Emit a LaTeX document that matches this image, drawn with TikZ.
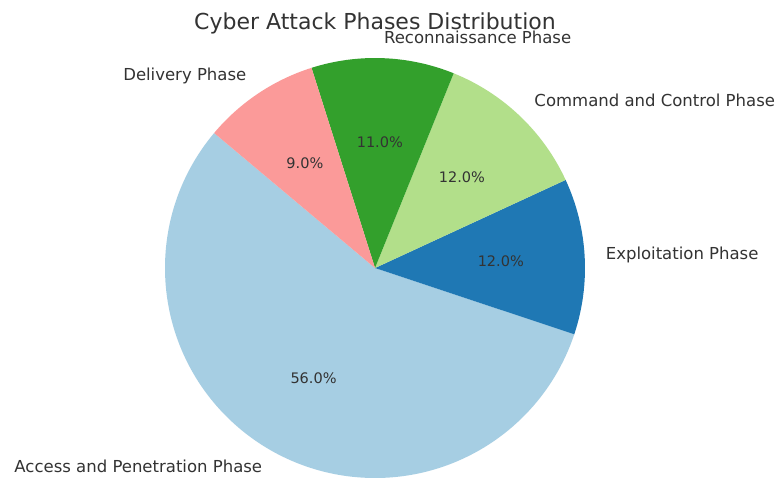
\documentclass[tikz,border=0pt]{standalone}
\usepackage{fontspec}
\setmainfont{DejaVu Sans}
\definecolor{cAccess}{HTML}{A6CEE3}
\definecolor{cExploit}{HTML}{1F78B4}
\definecolor{cCommand}{HTML}{B2DF8A}
\definecolor{cRecon}{HTML}{33A02C}
\definecolor{cDeliv}{HTML}{FB9A99}
\definecolor{txt}{HTML}{333333}
\tikzset{
  lbl/.style={text=txt, inner sep=0pt, font=\fontsize{16.5}{19}\selectfont},
  pct/.style={text=txt, inner sep=0pt, font=\fontsize{14.5}{17}\selectfont},
  ttl/.style={text=txt, inner sep=0pt, font=\fontsize{22}{26}\selectfont},
}
\begin{document}
\begin{tikzpicture}[x=1pt,y=1pt]
\useasboundingbox (0,0) rectangle (777,-477);
\fill[white] (0,0) rectangle (777,-477);
\coordinate (c) at (375,-268);
\def\R{210}
% slices (start angle 140, counter-clockwise)
\fill[cAccess]  (c) -- ([shift={(140:\R)}]c) arc[start angle=140, end angle=341.6, radius=\R] -- cycle;
\fill[cExploit] (c) -- ([shift={(341.6:\R)}]c) arc[start angle=341.6, end angle=384.8, radius=\R] -- cycle;
\fill[cCommand] (c) -- ([shift={(24.8:\R)}]c) arc[start angle=24.8, end angle=68, radius=\R] -- cycle;
\fill[cRecon]   (c) -- ([shift={(68:\R)}]c) arc[start angle=68, end angle=107.6, radius=\R] -- cycle;
\fill[cDeliv]   (c) -- ([shift={(107.6:\R)}]c) arc[start angle=107.6, end angle=140, radius=\R] -- cycle;
% labels
\node[lbl, anchor=east] (lAccess)  at ([shift={(240.8:231)}, yshift=3pt]c) {Access and Penetration Phase};
\node[lbl, anchor=west] (lExploit) at ([shift={(3.2:231)}]c) {Exploitation Phase};
\node[lbl, anchor=west] (lCommand) at ([shift={(46.4:231)}]c) {Command and Control Phase};
\node[lbl, anchor=west] (lRecon)   at ([shift={(87.8:231)}]c) {Reconnaissance Phase};
\node[lbl, anchor=east] (lDeliv)   at ([shift={(123.8:231)}]c) {Delivery Phase};
% percentages
\node[pct] (pAccess)  at ([shift={(240.8:126)}]c) {56.0\%};
\node[pct] (pExploit) at ([shift={(3.2:126)}]c) {12.0\%};
\node[pct] (pCommand) at ([shift={(46.4:126)}]c) {12.0\%};
\node[pct] (pRecon)   at ([shift={(87.8:126)}]c) {11.0\%};
\node[pct] (pDeliv)   at ([shift={(123.8:126)}]c) {9.0\%};
% title
\node[ttl] (title) at (375,-23) {Cyber Attack Phases Distribution};
\end{tikzpicture}
\end{document}
